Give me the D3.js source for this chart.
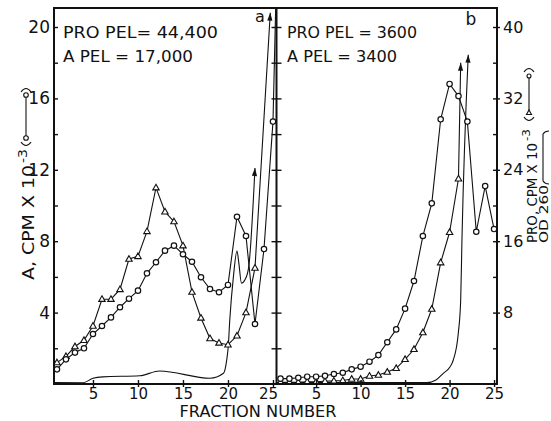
<!DOCTYPE html>
<html><head><meta charset="utf-8">
<script src="https://cdn.jsdelivr.net/npm/d3@7"></script>
<style>
body{margin:0;background:#fff}
svg text{font-family:"DejaVu Sans",sans-serif;fill:#111}
</style>
</head><body>
<svg id="c" width="551" height="421"></svg>
<script>
// ---------- DATA ----------
const fractions = [1,2,3,4,5,6,7,8,9,10,11,12,13,14,15,16,17,18,19,20,21,22,23,24,25];
const xTicks = [5,10,15,20,25];
const leftTickLabels = [4,8,12,16,20];
const rightTickLabels = [8,16,24,32,40];

// Panel a  (A = circles, left scale 0-20 ; PRO = triangles, right scale 0-40)
const circA = [0.82,1.38,1.76,2.0,2.8,3.25,3.73,4.3,4.78,5.23,6.2,6.82,7.47,7.75,7.27,6.85,5.98,5.32,5.14,5.55,9.37,8.29,3.36,7.56,14.7];
const circAOff = [25.3, 21.1];              // line runs off the top
const triA = [2.4,3.1,4.2,4.9,6.5,9.5,9.5,10.6,14.0,14.3,17.1,22.0,19.3,18.2,15.5,10.3,7.4,5.1,4.6,4.4,5.4,8.0,13.0];
const triAArrow = [24.7, 41.6];
const odAFrac = [0.67,3.9,5.0,6.1,10.2,12.4,18.0,19.5,19.86,20.03,20.2,20.6,21.0,21.2,21.5,21.9,22.3,23.0];
const odAVal  = [0.16,0.14,0.64,0.8,0.92,1.46,0.64,1.2,2.7,4.2,7.2,12.0,14.9,13.6,11.3,11.7,13.1,24.2];

// Panel b
const circB = [0.30,0.30,0.35,0.41,0.41,0.46,0.56,0.63,0.82,0.97,1.25,1.62,2.34,3.06,4.22,5.77,8.29,10.12,14.83,16.81,16.13,14.7,8.53,11.09,8.68];
const triB = [0.2,0.2,0.2,0.25,0.25,0.3,0.35,0.4,0.56,0.56,0.9,1.0,1.34,1.76,2.77,3.89,5.77,8.4,13.6,17.0,23.0];
const triBArrow = [21.25, 36.0];
const odBFrac = [0.55,17.43,18.47,19.29,20.04,20.42,20.98,21.25,21.39,22.1];
const odBVal  = [0.15,0.15,0.45,1.2,1.9,2.69,5.68,9.41,16.1,36.9];

// ---------- LAYOUT ----------
const svg = d3.select("#c");
const X0=54, XD=276.5, X1=497, YT=8, YB=384;
const xA = d3.scaleLinear().domain([0.67,25.39]).range([X0,XD]);
const xB = d3.scaleLinear().domain([0.55,25.33]).range([XD,X1]);
const yL = d3.scaleLinear().domain([0,20]).range([YB,27]);
const yR = d3.scaleLinear().domain([0,40]).range([YB,27]);

const g = svg.append("g");

function arrowHead(p0, p1){
  const ang = Math.atan2(p1[1]-p0[1], p1[0]-p0[0]);
  const L=8, W=2.6;
  const bx = p1[0]-L*Math.cos(ang), by = p1[1]-L*Math.sin(ang);
  const nx = -Math.sin(ang)*W, ny = Math.cos(ang)*W;
  g.append("path").attr("d",`M${p1[0]},${p1[1]}L${bx+nx},${by+ny}L${bx-nx},${by-ny}Z`)
   .attr("fill","#111");
}
function drawLine(pts, x, y, curve){
  const ln = d3.line().x(d=>x(d[0])).y(d=>y(d[1]));
  if(curve) ln.curve(curve);
  g.append("path").attr("d", ln(pts)).attr("fill","none").attr("stroke","#111").attr("stroke-width",1.1);
}
function circles(pts,x,y){
  g.selectAll(null).data(pts).enter().append("circle")
   .attr("cx",d=>x(d[0])).attr("cy",d=>y(d[1])).attr("r",2.7)
   .attr("fill","#fff").attr("stroke","#111").attr("stroke-width",1.2);
}
function triangles(pts,x,y){
  const s=3.4;
  g.selectAll(null).data(pts).enter().append("path")
   .attr("d",d=>{const cx=x(d[0]),cy=y(d[1]);return `M${cx},${cy-s}L${cx+s*0.95},${cy+s*0.65}L${cx-s*0.95},${cy+s*0.65}Z`;})
   .attr("fill","#fff").attr("stroke","#111").attr("stroke-width",1.1);
}

// ---- panel a ----
const odA = odAFrac.map((f,i)=>[f,odAVal[i]]);
drawLine(odA, xA, yR, d3.curveMonotoneX);
arrowHead([xA(odA[odA.length-2][0]),yR(odA[odA.length-2][1])],[xA(odA[odA.length-1][0]),yR(odA[odA.length-1][1])]);

const tA = triA.map((v,i)=>[fractions[i],v]);
drawLine(tA.concat([triAArrow]), xA, yR);
arrowHead([xA(tA[tA.length-1][0]),yR(tA[tA.length-1][1])],[xA(triAArrow[0]),yR(triAArrow[1])]);
triangles(tA, xA, yR);

const cA = circA.map((v,i)=>[fractions[i],v]);
drawLine(cA.concat([circAOff]), xA, yL);
circles(cA, xA, yL);

// ---- panel b ----
const odB = odBFrac.map((f,i)=>[f,odBVal[i]]);
drawLine(odB, xB, yR, d3.curveMonotoneX);
arrowHead([xB(odB[odB.length-2][0]),yR(odB[odB.length-2][1])],[xB(odB[odB.length-1][0]),yR(odB[odB.length-1][1])]);

const tB = triB.map((v,i)=>[fractions[i],v]);
drawLine(tB.concat([triBArrow]), xB, yR);
arrowHead([xB(tB[tB.length-1][0]),yR(tB[tB.length-1][1])],[xB(triBArrow[0]),yR(triBArrow[1])]);
triangles(tB, xB, yR);

const cB = circB.map((v,i)=>[fractions[i],v]);
drawLine(cB, xB, yL);
circles(cB, xB, yL);

// ---------- FRAME ----------
svg.append("rect").attr("x",X0).attr("y",YT).attr("width",X1-X0).attr("height",YB-YT)
  .attr("fill","none").attr("stroke","#111").attr("stroke-width",2);
svg.append("line").attr("x1",XD).attr("x2",XD).attr("y1",YT).attr("y2",YB)
  .attr("stroke","#111").attr("stroke-width",2);

const minor = [2,4,6,8,10,12,14,16,18,20];
function styleAxis(sel){ sel.select(".domain").remove(); sel.selectAll("line").attr("stroke","#111").attr("stroke-width",1.4); }

// left axis: inward ticks
svg.append("g").attr("transform",`translate(${X0},0)`)
  .call(d3.axisRight(yL).tickValues(minor).tickSize(4).tickFormat(""))
  .call(styleAxis);
svg.append("g").attr("transform",`translate(${X0},0)`)
  .call(d3.axisLeft(yL).tickValues(leftTickLabels).tickSize(0).tickPadding(4))
  .call(s=>{s.select(".domain").remove(); s.selectAll("text").style("font-size","17px");});
// divider ticks both sides
svg.append("g").attr("transform",`translate(${XD},0)`)
  .call(d3.axisRight(yL).tickValues(minor).tickSizeInner(5).tickSizeOuter(0).tickFormat(""))
  .call(styleAxis);
svg.append("g").attr("transform",`translate(${XD},0)`)
  .call(d3.axisLeft(yL).tickValues(minor).tickSizeInner(5).tickSizeOuter(0).tickFormat(""))
  .call(styleAxis);
// right axis
svg.append("g").attr("transform",`translate(${X1},0)`)
  .call(d3.axisLeft(yR).tickValues([4,8,12,16,20,24,28,32,36,40]).tickSize(4).tickFormat(""))
  .call(styleAxis);
svg.append("g").attr("transform",`translate(${X1},0)`)
  .call(d3.axisRight(yR).tickValues(rightTickLabels).tickSize(3).tickPadding(3))
  .call(s=>{s.select(".domain").remove(); s.selectAll("line").attr("stroke","#111").attr("stroke-width",1.4); s.selectAll("text").style("font-size","16px");});
// bottom axes
[xA,xB].forEach((sc,k)=>{
  svg.append("g").attr("transform",`translate(0,${YB})`)
    .call(d3.axisBottom(sc).tickValues(xTicks).tickSize(3).tickPadding(1))
    .call(s=>{s.select(".domain").remove(); s.selectAll("line").attr("stroke","#111").attr("stroke-width",1.4);
      s.selectAll("text").style("font-size","15px").attr("dx",(d)=> (k===0 && d===25)? -5 : 0);});
  svg.append("g").attr("transform",`translate(0,${YB})`)
    .call(d3.axisTop(sc).tickValues(xTicks).tickSize(4).tickFormat(""))
    .call(styleAxis);
});

// ---------- TEXT ----------
svg.append("text").attr("x",258).attr("y",416.5).attr("text-anchor","middle")
  .attr("textLength",157).attr("lengthAdjust","spacingAndGlyphs").style("font-size","15px").text("FRACTION NUMBER");

const ann = [["PRO PEL= 44,400",63,38,155],["A PEL = 17,000",63,62,130],["PRO PEL = 3600",287,38,130],["A PEL = 3400",287,62,110]];
ann.forEach(a=>svg.append("text").attr("x",a[1]).attr("y",a[2]).attr("textLength",a[3])
  .attr("lengthAdjust","spacingAndGlyphs").style("font-size","16px").text(a[0]));
svg.append("text").attr("x",260).attr("y",22).attr("text-anchor","middle").style("font-size","16px").text("a");
svg.append("text").attr("x",471).attr("y",25).attr("text-anchor","middle").style("font-size","17px").text("b");

function vtext(x,yStart,len,size,str){
  svg.append("text").attr("transform",`translate(${x},${yStart}) rotate(-90)`)
    .attr("textLength",len).attr("lengthAdjust","spacingAndGlyphs").style("font-size",size+"px").text(str);
}
// left label
vtext(33.5,280,115,16,"A, CPM X 10");
vtext(27,163,14,12,"-3");
// right labels
vtext(536.5,243,100,14,"PRO, CPM X 10");
vtext(530,141,12,11,"-3");
vtext(547.5,243,58,12,"OD 260");

// legends
const lg = svg.append("g").attr("stroke","#111").attr("fill","none").attr("stroke-width",1.1);
lg.append("line").attr("x1",26).attr("x2",26).attr("y1",95).attr("y2",138);
lg.append("circle").attr("cx",26).attr("cy",95).attr("r",2.3).attr("fill","#fff");
lg.append("circle").attr("cx",26).attr("cy",138).attr("r",2.3).attr("fill","#fff");
lg.append("path").attr("d","M21,92Q26,85 31,92");
lg.append("path").attr("d","M21,142Q26,149 31,142");

lg.append("line").attr("x1",529).attr("x2",529).attr("y1",76).attr("y2",113);
lg.append("circle").attr("cx",529).attr("cy",76).attr("r",2).attr("fill","#fff");
lg.append("path").attr("d","M529,110L531.5,114.5L526.5,114.5Z").attr("fill","#fff");
lg.append("path").attr("d","M524,72Q529,65 534,72");
lg.append("path").attr("d","M524,117Q529,124 534,117");

lg.append("line").attr("x1",543).attr("x2",543).attr("y1",134).attr("y2",181);
lg.append("path").attr("d","M543,134Q545,131 549,131");
lg.append("path").attr("d","M543,181Q545,184 549,184");
</script>
</body></html>
